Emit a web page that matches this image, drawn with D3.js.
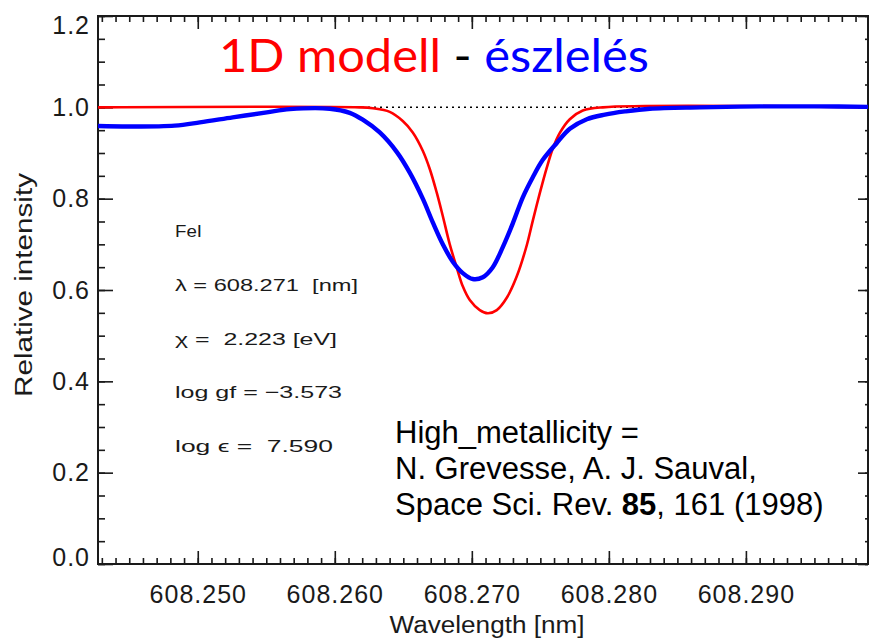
<!DOCTYPE html>
<html>
<head>
<meta charset="utf-8">
<script src="https://cdn.jsdelivr.net/npm/d3@7"></script>
<style>
  body { margin: 0; background: #fff; }
  svg { display: block; }
  .idl { font-family: "Liberation Sans", Arial, sans-serif; fill: #1a1a1a; }
</style>
</head>
<body>
<svg id="chart" width="869" height="638"></svg>
<script>
// model profile (red)
var modelWl = [608.24272, 608.26182, 608.26277, 608.26401, 608.26496, 608.26569, 608.26642, 608.26693,
               608.26745, 608.26788, 608.26839, 608.26891, 608.26934, 608.26985, 608.27058, 608.27117,
               608.27182, 608.27255, 608.27328, 608.27401, 608.27445, 608.27496, 608.27547, 608.27591,
               608.27642, 608.27715, 608.27810, 608.27956, 608.29891]
var modelI  = [1.000, 1.000, 0.998, 0.990, 0.970, 0.945, 0.905, 0.865,
               0.812, 0.762, 0.700, 0.648, 0.608, 0.578, 0.556, 0.549,
               0.556, 0.583, 0.630, 0.698, 0.752, 0.812, 0.868, 0.910,
               0.944, 0.974, 0.993, 1.000, 1.000]

// observed profile (blue)
var obsWl = [608.24272, 608.24504, 608.24832, 608.25015, 608.25255, 608.25504, 608.25672, 608.25964,
             608.26109, 608.26204, 608.26328, 608.26453, 608.26547, 608.26642, 608.26715, 608.26788,
             608.26861, 608.26934, 608.27007, 608.27080, 608.27153, 608.27226, 608.27299, 608.27372,
             608.27445, 608.27518, 608.27620, 608.27715, 608.27839, 608.27971, 608.28117, 608.28299,
             608.28664, 608.29102, 608.29540, 608.29891]
var obsI  = [0.959, 0.958, 0.960, 0.967, 0.978, 0.989, 0.996, 0.997,
             0.988, 0.973, 0.945, 0.902, 0.857, 0.800, 0.748, 0.700,
             0.662, 0.637, 0.624, 0.628, 0.650, 0.694, 0.746, 0.803,
             0.847, 0.885, 0.922, 0.953, 0.974, 0.984, 0.991, 0.997,
             1.000, 1.002, 1.002, 1.001]

var xMajor = [608.250, 608.260, 608.270, 608.280, 608.290]
var yMajor = [0.0, 0.2, 0.4, 0.6, 0.8, 1.0, 1.2]

var lineInfo = ["FeI", "λ = 608.271  [nm]", "χ =  2.223 [eV]", "log gf = −3.573", "log ϵ =  7.590"]
var infoWidths = [27, 183, 162, 167, 158]

var svg = d3.select('#chart')
// plot frame (don't use "top": it's window.top)
var pL = 98, pR = 868, pT = 16, pB = 564

var x = d3.scaleLinear().domain([608.24272, 608.29891]).range([pL, pR])
var y = d3.scaleLinear().domain([0, 1.2]).range([pB, pT])

var xMinor = d3.range(243, 299).map(i => 608 + i / 1000)
var yMinor = d3.range(0, 25).map(i => i * 0.05)

function strip(g) {
  g.select('.domain').remove()
  g.selectAll('line').attr('stroke', '#1a1a1a').attr('stroke-width', 1.6)
}

// minor ticks
svg.append('g').attr('transform', 'translate(0,' + pB + ')')
  .call(d3.axisBottom(x).tickValues(xMinor).tickSize(-6).tickFormat(''))
  .call(strip)
svg.append('g').attr('transform', 'translate(0,' + pT + ')')
  .call(d3.axisTop(x).tickValues(xMinor).tickSize(-6).tickFormat(''))
  .call(strip)
svg.append('g').attr('transform', 'translate(' + pL + ',0)')
  .call(d3.axisLeft(y).tickValues(yMinor).tickSize(-7).tickFormat(''))
  .call(strip)
svg.append('g').attr('transform', 'translate(' + pR + ',0)')
  .call(d3.axisLeft(y).tickValues(yMinor).tickSize(3).tickFormat(''))
  .call(strip)

// major ticks + labels
var xAx = svg.append('g').attr('transform', 'translate(0,' + pB + ')')
  .call(d3.axisBottom(x).tickValues(xMajor).tickSize(-13).tickPadding(21).tickFormat(d3.format('.3f')))
  .call(strip)
svg.append('g').attr('transform', 'translate(0,' + pT + ')')
  .call(d3.axisTop(x).tickValues(xMajor).tickSize(-13).tickFormat(''))
  .call(strip)
var yAx = svg.append('g').attr('transform', 'translate(' + pL + ',0)')
  .call(d3.axisLeft(y).tickValues(yMajor).tickSize(-15).tickPadding(8).tickFormat(d3.format('.1f')))
  .call(strip)
svg.append('g').attr('transform', 'translate(' + pR + ',0)')
  .call(d3.axisLeft(y).tickValues(yMajor).tickSize(10).tickFormat(''))
  .call(strip)

svg.selectAll('.tick text')
  .attr('class', 'idl')
  .style('font-size', '25px')
  .style('letter-spacing', '1px')
  .attr('fill', '#1a1a1a')
// IDL keeps the end labels inside the frame
yAx.selectAll('.tick text')
  .attr('y', d => Math.max(pT + 9, Math.min(pB - 7, y(d))) - y(d))

// frame
svg.append('rect')
  .attr('x', pL).attr('y', pT)
  .attr('width', pR - pL).attr('height', pB - pT)
  .attr('fill', 'none').attr('stroke', '#1a1a1a').attr('stroke-width', 2)

// continuum (dotted)
svg.append('line')
  .attr('x1', pL).attr('x2', pR)
  .attr('y1', y(1)).attr('y2', y(1))
  .attr('stroke', '#000').attr('stroke-width', 1.5).attr('stroke-dasharray', '2,4')

var line = d3.line()
  .x(d => x(d[0]))
  .y(d => y(d[1]))
  .curve(d3.curveCatmullRom.alpha(0.5))

svg.append('path')
  .datum(d3.zip(modelWl, modelI))
  .attr('d', line)
  .attr('fill', 'none').attr('stroke', '#ff0000').attr('stroke-width', 2.6)

svg.append('path')
  .datum(d3.zip(obsWl, obsI))
  .attr('d', line)
  .attr('fill', 'none').attr('stroke', '#0000ff').attr('stroke-width', 4.4)

// axis titles
svg.append('text').attr('class', 'idl')
  .attr('x', (pL + pR) / 2 + 4).attr('y', 633)
  .attr('text-anchor', 'middle')
  .attr('textLength', 195).attr('lengthAdjust', 'spacingAndGlyphs')
  .style('font-size', '23px')
  .text('Wavelength [nm]')

svg.append('text').attr('class', 'idl')
  .attr('transform', 'translate(32,' + ((pT + pB) / 2 - 5) + ') rotate(-90)')
  .attr('text-anchor', 'middle')
  .attr('textLength', 224).attr('lengthAdjust', 'spacingAndGlyphs')
  .style('font-size', '23px')
  .text('Relative intensity')

// line parameters
svg.append('g').selectAll('text')
  .data(lineInfo)
  .join('text')
  .attr('class', 'idl')
  .attr('x', 175)
  .attr('y', (d, i) => 237 + i * 53.8)
  .attr('textLength', (d, i) => infoWidths[i])
  .attr('lengthAdjust', 'spacingAndGlyphs')
  .style('white-space', 'pre')
  .style('font-size', '17px')
  .text(d => d)

// title
var title = svg.append('text')
  .attr('x', 219).attr('y', 72)
  .attr('textLength', 430).attr('lengthAdjust', 'spacingAndGlyphs')
  .style('font-family', 'Lato, "Open Sans", sans-serif')
  .style('font-size', '47px')
title.append('tspan').attr('fill', '#ff0000').text('1D modell')
title.append('tspan').attr('fill', '#000').text(' - ')
title.append('tspan').attr('fill', '#0000ff').text('észlelés')

// reference note
var ref = svg.append('g')
  .style('font-family', '"Liberation Sans", Arial, sans-serif')
  .style('font-size', '31px')
ref.append('text').attr('x', 395).attr('y', 443).text('High_metallicity =')
ref.append('text').attr('x', 395).attr('y', 479).text('N. Grevesse, A. J. Sauval,')
var r3 = ref.append('text').attr('x', 395).attr('y', 515)
r3.append('tspan').text('Space Sci. Rev. ')
r3.append('tspan').style('font-weight', 'bold').text('85')
r3.append('tspan').text(', 161 (1998)')
</script>
</body>
</html>
